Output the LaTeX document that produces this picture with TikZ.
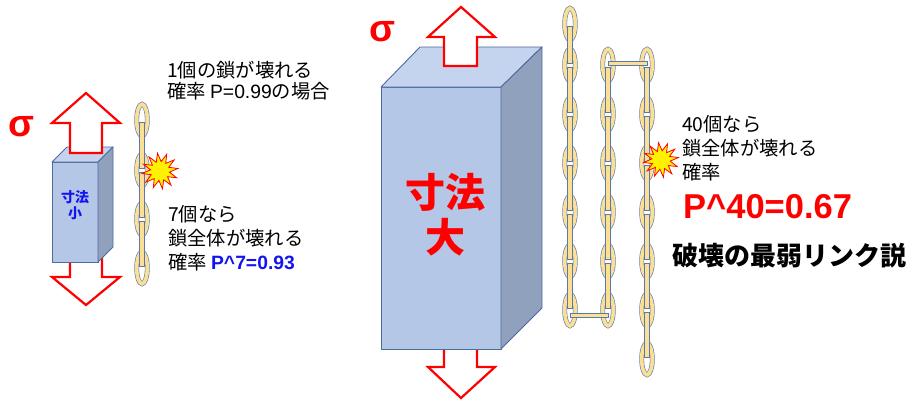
\documentclass[tikz,border=0pt]{standalone}
\usepackage{fontspec}
\setmainfont{Liberation Sans}
\newfontfamily\jp{Noto Sans CJK JP}
\usepackage{tikz}
\usetikzlibrary{shapes.geometric}
\definecolor{chainyellow}{HTML}{FADF95}
\definecolor{chainblue}{HTML}{5A78AE}
\definecolor{boxfront}{HTML}{B4C7E7}
\definecolor{boxtop}{HTML}{C5D4EE}
\definecolor{boxside}{HTML}{8FA1BD}
\definecolor{boxline}{HTML}{4E6A9E}
\definecolor{textblue}{HTML}{1414F0}
\tikzset{
  ring/.style={draw=chainblue,line width=0.6pt,double=chainyellow,double distance=3.6pt},
  bar/.style={draw=chainblue,line width=0.6pt,fill=chainyellow},
  force/.style={draw=red,line width=2.2pt,fill=white,line join=miter},
  face/.style={draw=boxline,line width=0.9pt,line join=round},
  burst/.style={star,star points=12,star point ratio=1.9,fill=yellow,draw=red,line width=0.8pt,inner sep=0pt,minimum size=36pt,rotate=8},
  note/.style={anchor=west,align=left,inner sep=0pt},
}
% one hanging chain: x and centres of the face-on links
\newcommand{\chaincol}[2]{%
  \foreach \c in {#2} \draw[ring] (#1,\c) ellipse (5.3 and 15.8);
  \foreach \c [count=\i, remember=\c as \p (initially 0)] in {#2}
    {\ifnum\i>1 \draw[bar] (#1-2.3,\p+2) rectangle (#1+2.3,\c-2);\fi}
}

\begin{document}
\begin{tikzpicture}[x=1pt,y=-1pt]
  \useasboundingbox (0,0) rectangle (922,402);

  % small specimen
  \draw [force] (70,250) -- (70,277) -- (52,277) -- (86,305) -- (120,277) -- (102,277) -- (102,250) -- cycle;
  \draw [face,fill=boxfront] (52,162) rectangle (98,262);
  \draw [face,fill=boxtop] (52,162) -- (67,147) -- (113,147) -- (98,162) -- cycle;
  \draw [face,fill=boxside] (98,162) -- (113,147) -- (113,247) -- (98,262) -- cycle;
  \draw [force] (70,153) -- (70,123) -- (52,123) -- (86,93) -- (120,123) -- (102,123) -- (102,153) -- cycle;
  \node [font=\jp\bfseries\fontsize{14}{16}\selectfont,text=textblue,align=center] (smalllabel) at (75,205) {寸法\\小};
  \node [font=\bfseries\fontsize{38}{40}\selectfont,text=red] (sigmasmall) at (21,127) {σ};

  \chaincol{142}{120,170,219,268}
  \node [burst] (breaksmall) at (160,171) {};

  \node [note,font=\jp\fontsize{19.3}{21}\selectfont] (oneprob) at (167,80.5) {1個の鎖が壊れる\\確率 {\rmfamily P=0.99}の場合};
  \node [note,font=\jp\fontsize{19.3}{24}\selectfont] (sevenprob) at (168,238) {7個なら\\鎖全体が壊れる\\確率 {\rmfamily\bfseries\color{textblue}P\textasciicircum 7=0.93}};

  % large specimen
  \draw [force] (444,340) -- (444,367) -- (428,367) -- (461,398) -- (495,367) -- (477,367) -- (477,340) -- cycle;
  \draw [face,fill=boxfront] (381,87) rectangle (501,349);
  \draw [face,fill=boxtop] (381,87) -- (420,47) -- (542,47) -- (501,87) -- cycle;
  \draw [face,fill=boxside] (501,87) -- (542,47) -- (542,308) -- (501,349) -- cycle;
  \draw [force] (444,66) -- (444,37) -- (428,37) -- (461,7) -- (495,37) -- (477,37) -- (477,66) -- cycle;
  \node [font=\jp\bfseries\fontsize{40}{45}\selectfont,text=red,align=center] (largelabel) at (445,215) {寸法\\大};
  \node [font=\bfseries\fontsize{38}{40}\selectfont,text=red] (sigmalarge) at (382,32) {σ};

  \chaincol{570}{24,65,114,163,212,261,310}
  \chaincol{608}{65,114,163,212,261,310}
  \chaincol{647}{65,114,163,212,261,310,359}
  \draw [bar] (608,61) rectangle (647,65.5);
  \draw [bar] (570,313) rectangle (608,317.5);
  \node [burst,minimum size=35pt] (breaklarge) at (661,160) {};

  \node [note,font=\jp\fontsize{19.3}{24}\selectfont] (fortyprob) at (682,148) {40個なら\\鎖全体が壊れる\\確率};
  \node [note,font=\bfseries\fontsize{34.5}{36}\selectfont,text=red] (fortyval) at (683,207) {P\textasciicircum 40=0.67};
  \node [note,font=\jp\bfseries\fontsize{26}{30}\selectfont] (weakest) at (672,256) {破壊の最弱リンク説};
\end{tikzpicture}
\end{document}
